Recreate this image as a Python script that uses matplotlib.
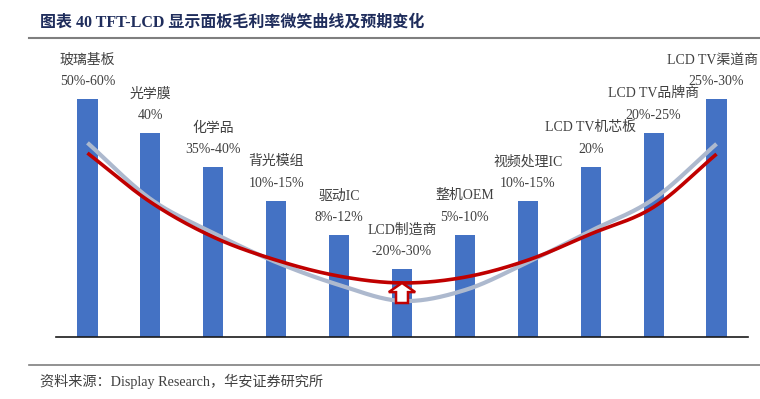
import matplotlib

matplotlib.use("Agg")
import matplotlib.pyplot as plt
import numpy as np
from matplotlib.patches import FancyArrow

plt.rcParams["font.family"] = ["Liberation Serif", "Noto Sans CJK SC", "DejaVu Sans"]

# 产业链环节与毛利率
names = ["玻璃基板", "光学膜", "化学品", "背光模组", "驱动IC", "LCD制造商",
         "整机OEM", "视频处理IC", "LCD TV机芯板", "LCD TV品牌商", "LCD TV渠道商"]
margins = ["50%-60%", "40%", "35%-40%", "10%-15%", "8%-12%", "-20%-30%",
           "5%-10%", "10%-15%", "20%", "20%-25%", "25%-30%"]
# 柱高（示意高度）
heights = [7, 6, 5, 4, 3, 2, 3, 4, 5, 6, 7]
# 当前微笑曲线（灰）与预期曲线（红）
curve_now = [5.71, 4.06, 3.06, 2.20, 1.53, 1.06, 1.38, 2.20, 3.12, 4.06, 5.68]
curve_exp = [5.41, 3.97, 2.94, 2.26, 1.79, 1.59, 1.76, 2.26, 3.03, 3.82, 5.38]


def smooth(y, n=40):
    """Catmull-Rom 平滑曲线"""
    y = np.asarray(y, dtype=float)
    p = np.concatenate([[2 * y[0] - y[1]], y, [2 * y[-1] - y[-2]]])
    xs, ys = [], []
    for i in range(len(y) - 1):
        t = np.linspace(0, 1, n, endpoint=False)
        p0, p1, p2, p3 = p[i], p[i + 1], p[i + 2], p[i + 3]
        seg = 0.5 * ((2 * p1) + (-p0 + p2) * t + (2 * p0 - 5 * p1 + 4 * p2 - p3) * t ** 2
                     + (-p0 + 3 * p1 - 3 * p2 + p3) * t ** 3)
        xs.append(i + t)
        ys.append(seg)
    xs.append([len(y) - 1])
    ys.append([y[-1]])
    return np.concatenate(xs), np.concatenate(ys)


fig = plt.figure(figsize=(7.6, 3.99), dpi=100)
ax = fig.add_axes([0.0737, 0.1554, 0.9105, 0.7444])
x = np.arange(len(names))
ax.bar(x, heights, width=0.32, color="#4472C4", zorder=2)

gx, gy = smooth(curve_now)
ax.plot(gx, gy, color="#ADB9CE", lw=3.0, solid_capstyle="butt", zorder=3)
rx, ry = smooth(curve_exp)
ax.plot(rx, ry, color="#C00000", lw=2.6, solid_capstyle="butt", zorder=4)

# 上升箭头
i = 5
ax.add_patch(FancyArrow(i, curve_now[i] - 0.06, 0, curve_exp[i] - curve_now[i] + 0.06,
                        width=0.19, head_width=0.42, head_length=0.27,
                        length_includes_head=True, facecolor="white",
                        edgecolor="#C00000", lw=1.8, zorder=5))

for xi, h, nm, mg in zip(x, heights, names, margins):
    dx = -0.07 if xi == len(names) - 1 else 0
    ax.text(xi + dx, h + 1.15, nm, ha="center", va="center", fontsize=10, color="#404040")
    ax.text(xi, h + 0.5, mg, ha="center", va="center", fontsize=10, color="#404040")

ax.set_xlim(-0.5, len(names) - 0.5)
ax.set_ylim(0, 8.735)
ax.set_xticks([])
ax.set_yticks([])
for s in ["top", "right", "left"]:
    ax.spines[s].set_visible(False)
ax.spines["bottom"].set_color("#1a1a1a")
ax.spines["bottom"].set_linewidth(1.2)

fig.text(0.053, 0.943, "图表 40 TFT-LCD 显示面板毛利率微笑曲线及预期变化",
         fontsize=11.5, fontweight="bold", color="#1F2D5C", va="center")
fig.add_artist(plt.Line2D([0.038, 1.0], [0.905, 0.905], color="#7F7F7F", lw=1.5))
fig.add_artist(plt.Line2D([0.038, 1.0], [0.085, 0.085], color="#7F7F7F", lw=1.2))
fig.text(0.053, 0.045, "资料来源：Display Research，华安证券研究所",
         fontsize=10.2, color="#404040", va="center")

fig.savefig("out.png", dpi=100)
